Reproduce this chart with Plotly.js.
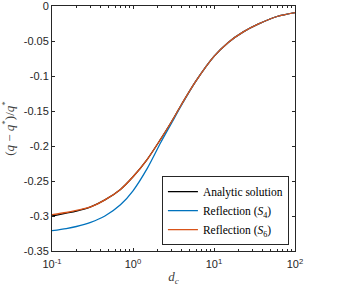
<!DOCTYPE html>
<html>
<head>
<meta charset="utf-8">
<script src="https://cdn.plot.ly/plotly-3.0.1.min.js"></script>
<style>html,body{margin:0;padding:0;background:#fff;}#chart{width:347px;height:289px;}</style>
</head>
<body>
<div id="chart"></div>
<script>
const dc = [0.1, 0.15, 0.2, 0.3, 0.45, 0.7, 1.0, 1.5, 2.2, 3, 4, 6, 10, 15, 23, 35, 60, 100];
const analytic = [-0.300, -0.296, -0.293, -0.287, -0.277, -0.262, -0.244, -0.219, -0.190, -0.165, -0.140, -0.107, -0.072, -0.052, -0.037, -0.026, -0.015, -0.0095];
const reflS6 = [-0.298, -0.295, -0.292, -0.287, -0.277, -0.262, -0.244, -0.219, -0.190, -0.165, -0.140, -0.107, -0.072, -0.052, -0.037, -0.026, -0.015, -0.0095];
const reflS4 = [-0.321, -0.318, -0.315, -0.309, -0.300, -0.284, -0.264, -0.232, -0.195, -0.167, -0.141, -0.107, -0.072, -0.052, -0.037, -0.026, -0.015, -0.0095];
const yTickVals = [0, -0.05, -0.1, -0.15, -0.2, -0.25, -0.3, -0.35];
const yTickText = ['0', '-0.05', '-0.1', '-0.15', '-0.2', '-0.25', '-0.3', '-0.35'];
const xTickVals = [0.1, 1, 10, 100];
const xTickText = ['10<sup>-1</sup>', '10<sup>0</sup>', '10<sup>1</sup>', '10<sup>2</sup>'];
const xMinorVals = [0.2, 0.3, 0.4, 0.5, 0.6, 0.7, 0.8, 0.9, 2, 3, 4, 5, 6, 7, 8, 9, 20, 30, 40, 50, 60, 70, 80, 90];
const names = ['Analytic solution', 'Reflection (<i>S</i><sub>4</sub>)', 'Reflection (<i>S</i><sub>6</sub>)'];

const line = (y, name, color) => ({
  x: dc, y: y, name: name, type: 'scatter', mode: 'lines',
  line: {color: color, width: 1.3, shape: 'spline', smoothing: 0.8}
});
const traces = [
  line(analytic, names[0], '#000000'),
  line(reflS4, names[1], '#0072BD'),
  line(reflS6, names[2], '#D95319')
];

const axisCommon = {
  showline: true, linewidth: 1, linecolor: '#262626', mirror: 'ticks',
  ticks: 'inside', ticklen: 3, tickcolor: '#262626', showgrid: false, zeroline: false,
  ticklabeloverflow: 'allow',
  tickfont: {family: 'Liberation Sans, Arial', size: 11, color: '#262626'}
};
const layout = {
  width: 347, height: 289,
  margin: {l: 52, r: 52, t: 6, b: 38},
  paper_bgcolor: '#fff', plot_bgcolor: '#fff',
  showlegend: true,
  xaxis: Object.assign({}, axisCommon, {
    type: 'log', range: [-1, 2], tickmode: 'array', tickvals: xTickVals, ticktext: xTickText,
    ticklabelstandoff: 3,
    minor: {tickmode: 'array', tickvals: xMinorVals, ticks: 'inside', ticklen: 2, tickcolor: '#262626', showgrid: false},
    title: {text: '<i>d</i><sub><i>c</i></sub>', standoff: 2,
      font: {family: 'Liberation Serif, serif', size: 13, color: '#404040'}}
  }),
  yaxis: Object.assign({}, axisCommon, {
    range: [-0.35, 0], tickmode: 'array', tickvals: yTickVals, ticktext: yTickText,
    title: {text: '(<i>q</i> − <i>q</i><sup>*</sup>)/<i>q</i><sup>*</sup>', standoff: 6,
      font: {family: 'Liberation Serif, serif', size: 13, color: '#404040'}}
  }),
  legend: {
    x: 0.975, y: 0.024, xanchor: 'right', yanchor: 'bottom',
    bgcolor: '#fff', bordercolor: '#262626', borderwidth: 1,
    font: {family: 'Liberation Serif, serif', size: 11.5, color: '#000'},
    tracegroupgap: 0, itemwidth: 30
  }
};
Plotly.newPlot('chart', traces, layout, {displayModeBar: false, staticPlot: true});
</script>
</body>
</html>
